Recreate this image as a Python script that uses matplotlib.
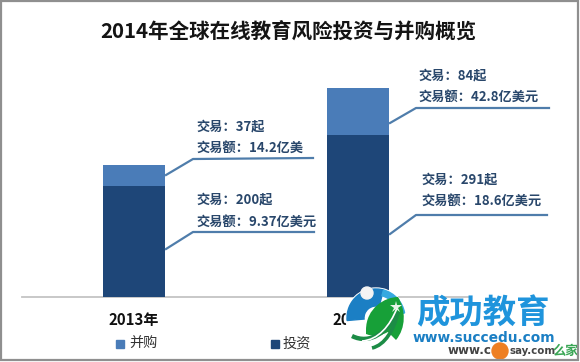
import matplotlib
matplotlib.use("Agg")
import matplotlib.pyplot as plt
from matplotlib.patches import Circle, PathPatch, Rectangle, Wedge
from matplotlib.path import Path

plt.rcParams['font.family'] = ['Noto Sans CJK SC', 'DejaVu Sans']

# ---- data ----
years = ['2013年', '2014年']
deals_invest = [200, 291]
deals_merge = [37, 84]
amount_invest = ['9.37亿美元', '18.6亿美元']
amount_merge = ['14.2亿美', '42.8亿美元']
title = '2014年全球在线教育风险投资与并购概览'
series_names = ['并购', '投资']

C_LIGHT = '#4a7cb8'
C_DARK = '#1e4678'
C_LEAD = '#4f7dab'
C_TXT = '#29476b'

W, H = 580, 362
fig = plt.figure(figsize=(W / 100, H / 100), dpi=100, facecolor='white')

# main axes: baseline pixel y=296.5, x from 22 to 470, 0.555 px per deal
top_px = 40
ax = fig.add_axes([22 / W, (H - 296.5) / H, 448 / W, (296.5 - top_px) / H])
ax.set_xlim(-0.5, 1.5)
ax.set_ylim(0, (296.5 - top_px) / 0.555)
ax.bar(range(2), deals_invest, width=0.281, color=C_DARK, zorder=3)
ax.bar(range(2), deals_merge, bottom=deals_invest, width=0.281, color=C_LIGHT, zorder=3)
for s in ['top', 'left', 'right']:
    ax.spines[s].set_visible(False)
ax.spines['bottom'].set_color('#c4c4c4')
ax.spines['bottom'].set_linewidth(1.3)
ax.set_yticks([])
ax.set_xticks(range(2))
ax.set_xticklabels(years, fontsize=10.8, fontweight='bold', color='#111111')
ax.tick_params(axis='x', length=0, pad=11)
ax.patch.set_alpha(0)

# overlay in pixel coordinates for title, callouts, legend and watermark
ov = fig.add_axes([0, 0, 1, 1], zorder=5)
ov.set_xlim(0, W)
ov.set_ylim(H, 0)
ov.axis('off')
ov.patch.set_alpha(0)

ov.text(288, 31, title, ha='center', va='center', fontsize=14.75, fontweight='bold', color='#141414')


def callout(line_xy, x, y1, y2, txt1, txt2):
    ov.plot(*zip(*line_xy), color=C_LEAD, lw=1.6, solid_joinstyle='round')
    ov.text(x, y1, txt1, va='center', fontsize=9.5, fontweight='bold', color=C_TXT)
    ov.text(x, y2, txt2, va='center', fontsize=9.5, fontweight='bold', color=C_TXT)


callout([(166, 175), (193, 159), (313, 158)], 196, 126, 148,
        f'交易：{deals_merge[0]}起', f'交易额：{amount_merge[0]}')
callout([(166, 249), (193, 232), (314, 232)], 196, 199, 222,
        f'交易：{deals_invest[0]}起', f'交易额：{amount_invest[0]}')
callout([(390, 123), (416, 108), (549, 108)], 418, 75, 97,
        f'交易：{deals_merge[1]}起', f'交易额：{amount_merge[1]}')
callout([(390, 234), (416, 215), (547, 215)], 421, 179, 201,
        f'交易：{deals_invest[1]}起', f'交易额：{amount_invest[1]}')

# legend
ov.add_patch(Rectangle((116, 340), 8, 8, color=C_LIGHT))
ov.text(129, 344, series_names[0], va='center', fontsize=10.2, color='#333333')
ov.add_patch(Rectangle((271, 340), 8, 8, color=C_DARK))
ov.text(283, 344, series_names[1], va='center', fontsize=10.2, color='#333333')

# watermark logo
ov.add_patch(Circle((376, 318), 30, color='white', zorder=6))
ov.add_patch(Wedge((376, 318), 29, 175, 285, width=17, color='#1b7fc4', zorder=7))
ov.add_patch(Wedge((376, 318), 29, 285, 350, width=6, color='#36a9e0', zorder=7))
MC = [Path.MOVETO] + [Path.CURVE4] * 6 + [Path.LINETO] + [Path.CURVE4] * 3 + [Path.CLOSEPOLY]
leaf = Path([(366, 330), (366, 308), (385, 297), (398, 297),
             (406, 310), (406, 328), (396, 340),
             (388, 332), (380, 336), (374, 337), (366, 334), (366, 330)], MC)
ov.add_patch(PathPatch(leaf, fc='#17a038', ec='none', zorder=8))
for pts, col, lw in [([(352, 336), (370, 345), (388, 332), (398, 312)], '#1c8c46', 3.2),
                     ([(372, 348), (385, 345), (394, 330), (398, 312)], '#1c8c46', 2.6)]:
    ov.add_patch(PathPatch(Path(pts, [Path.MOVETO] + [Path.CURVE4] * 3),
                           fc='none', ec=col, lw=lw, zorder=8))
ov.add_patch(PathPatch(Path([(362, 341), (378, 340), (390, 326), (397, 308)],
                            [Path.MOVETO] + [Path.CURVE4] * 3),
                       fc='none', ec='white', lw=1.2, zorder=9))
ov.add_patch(Circle((367, 293), 6, color='#f4f4f4', zorder=9))
ov.plot([396], [307], marker='*', ms=9, color='#e8f5e8', mew=0, zorder=9)
ov.text(483, 314, '成功教育', ha='center', va='center', fontsize=24, fontweight='bold',
        color='#1f94dc', zorder=7)
ov.text(484, 338, 'www.succedu.com', ha='center', va='center', fontsize=9.9, fontweight='bold',
        family='DejaVu Sans', color='#1b7fc4', zorder=7)
ov.text(491, 351, 'www.c', ha='right', va='center', fontsize=8.6, fontweight='bold',
        family='DejaVu Sans', color='#444444', zorder=6)
ov.text(510, 351, 'say.com', ha='left', va='center', fontsize=7.4, fontweight='bold',
        family='DejaVu Sans', color='#444444', zorder=6)
ov.add_patch(Circle((500, 351), 8, color='#ee7f22', zorder=7))
ov.text(566, 351, '么家', ha='center', va='center', fontsize=9.5, fontweight='bold',
        color='#3aa655', zorder=7)

# outer grey frame
ov.add_patch(Rectangle((1, 1), 577, 359, fill=False, ec='#8f8f8f', lw=1.6, zorder=10))

fig.savefig('out.png', dpi=100)
